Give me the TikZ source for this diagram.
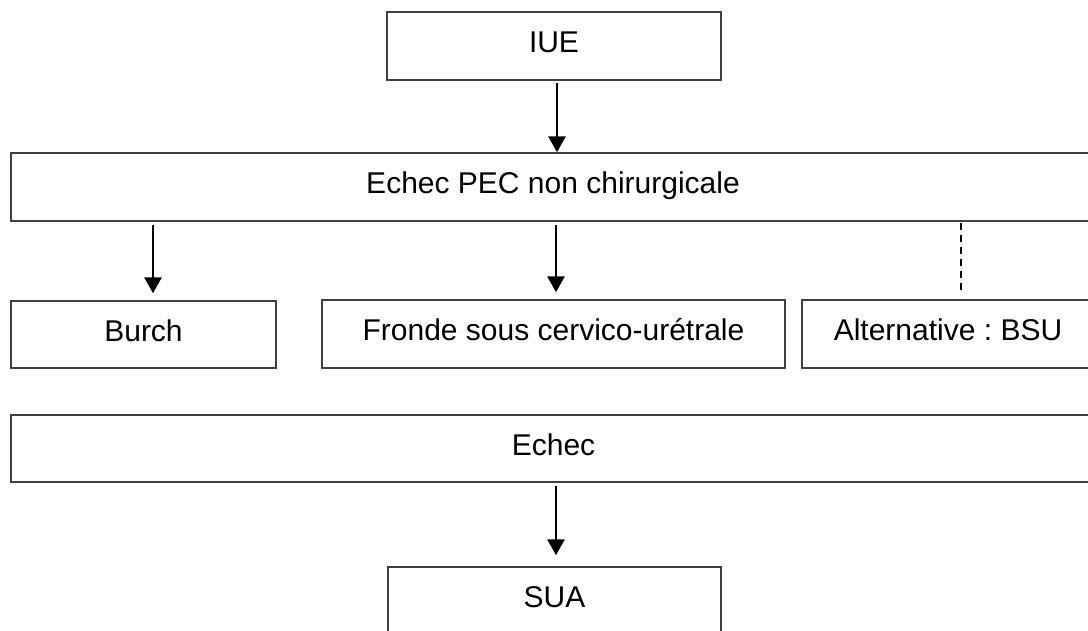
\documentclass[tikz,border=0pt]{standalone}
\usepackage{fontspec}
\setmainfont{Liberation Sans}
\usetikzlibrary{arrows.meta}
\definecolor{boxline}{HTML}{404040}
\begin{document}
\frenchspacing
\begin{tikzpicture}[x=1pt,y=1pt,
  box/.style={draw=boxline,line width=1.4pt,fill=white,inner sep=0pt,
    font=\fontsize{30}{36}\selectfont,text height=21.5pt,text depth=8pt},
  arr/.style={line width=2.8pt,-{Triangle[length=16pt,width=17pt]}},
  dashline/.style={line width=1.5pt,dash pattern=on 7pt off 5pt}]
\clip (0,0) rectangle (1088,630);
\fill[white] (0,0) rectangle (1088,630);
\node[box,minimum width=334pt,minimum height=68pt] (iue) at (554,584) {IUE};
\node[box,minimum width=1084pt,minimum height=68pt] (pec) at (553,443) {Echec PEC non chirurgicale};
\node[box,minimum width=265pt,minimum height=67pt] (burch) at (143.5,295.5) {Burch};
\node[box,minimum width=292pt,minimum height=68pt] (alt) at (948,296) {Alternative : BSU};
\node[box,minimum width=463pt,minimum height=68pt] (fronde) at (553.5,296) {Fronde sous cervico-urétrale};
\node[box,minimum width=1085pt,minimum height=67pt] (echec) at (553.5,181.5) {Echec};
\node[box,minimum width=333pt,minimum height=68pt] (sua) at (554.5,29) {SUA};
\draw[arr,shorten <=2pt] ([xshift=3pt]iue.south) -- ([xshift=3pt]iue.south |- pec.north);
\draw[arr,shorten <=3pt,shorten >=7pt] ([xshift=9.5pt]burch.north |- pec.south) -- ([xshift=9.5pt]burch.north);
\draw[arr,shorten <=3pt,shorten >=7pt] ([xshift=2.5pt]fronde.north |- pec.south) -- ([xshift=2.5pt]fronde.north);
\draw[dashline,shorten <=1pt,shorten >=8pt] ([xshift=13pt]alt.north |- pec.south) -- ([xshift=13pt]alt.north);
\draw[arr,shorten <=3pt,shorten >=11pt] ([xshift=1.5pt]sua.north |- echec.south) -- ([xshift=1.5pt]sua.north);
\end{tikzpicture}
\end{document}
